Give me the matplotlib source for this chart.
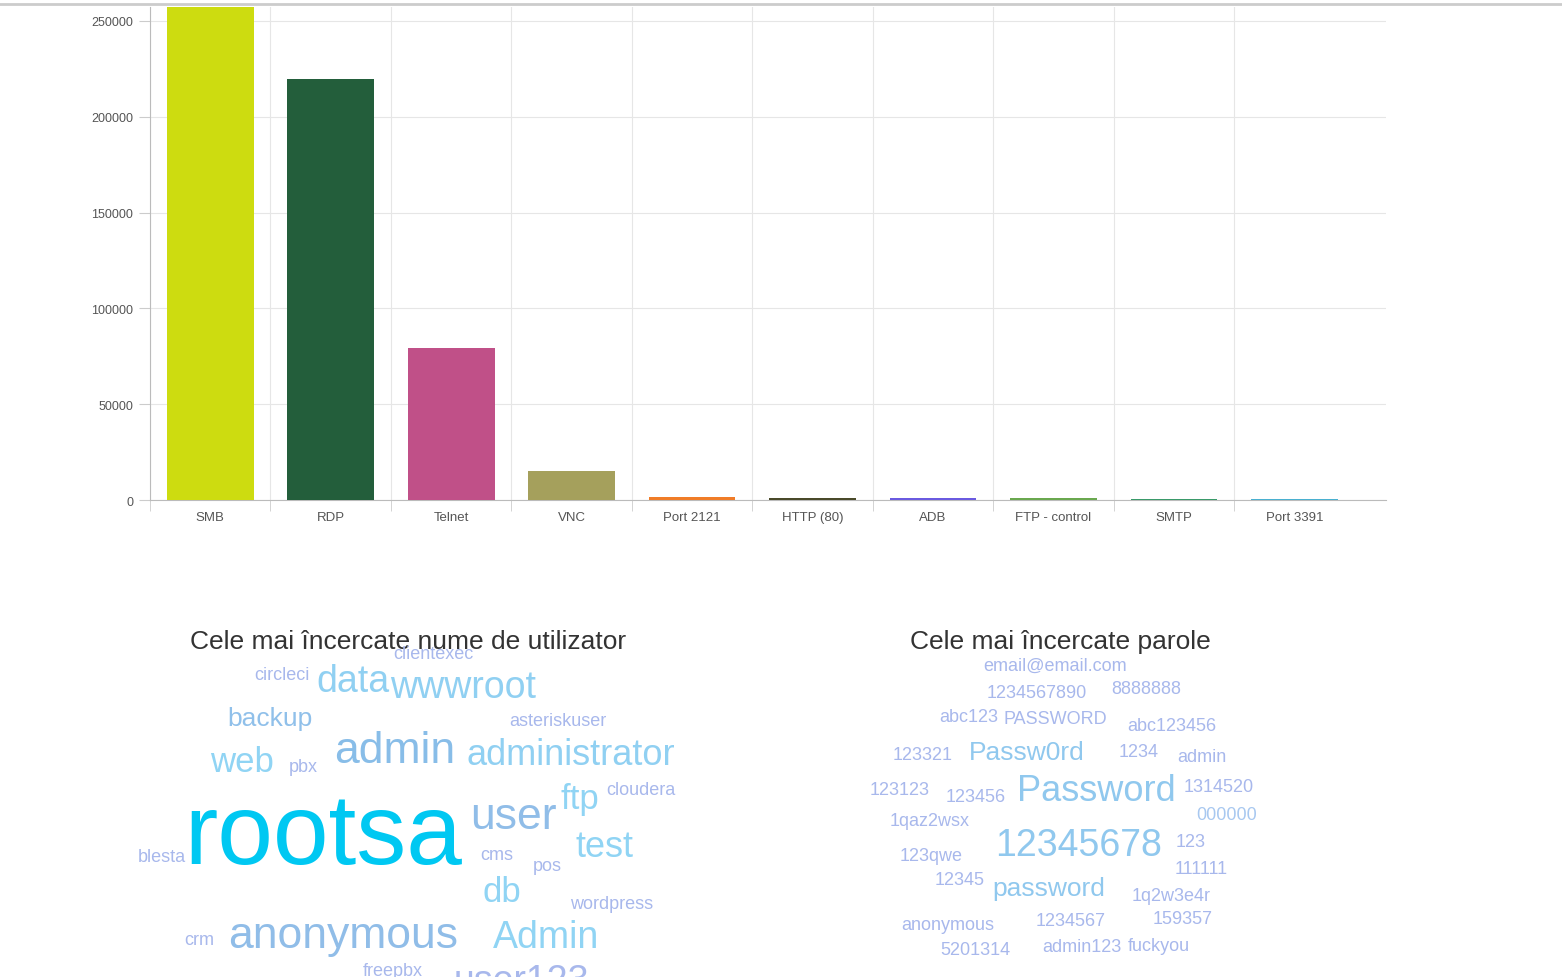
import matplotlib
matplotlib.use("Agg")
import matplotlib.pyplot as plt

categories = ["SMB", "RDP", "Telnet", "VNC", "Port 2121", "HTTP (80)", "ADB", "FTP - control", "SMTP", "Port 3391"]
values = [300000, 219500, 79500, 15200, 1700, 1100, 1000, 900, 600, 500]
colors = ["#cddc10", "#235e3b", "#c05088", "#a5a05c", "#f07c28", "#4a4a2a", "#6a5ae0", "#6aa84f", "#3a9a6a", "#4ab0d0"]
yticks = [0, 50000, 100000, 150000, 200000, 250000]

user_words = ["clientexec", "circleci", "data", "wwwroot", "backup", "asteriskuser", "web", "pbx", "admin",
              "administrator", "cloudera", "ftp", "blesta", "rootsa", "user", "test", "cms", "pos", "db",
              "wordpress", "crm", "anonymous", "Admin", "freepbx", "user123"]
user_sizes = [13, 13, 27, 27, 19, 13, 25, 13, 32, 26, 13, 25, 13, 72, 32, 26, 13, 13, 25, 13, 13, 32, 27, 13, 27]
user_pos = [(433, 655), (282, 676), (353, 682), (463, 688), (270, 719), (558, 721), (242, 763), (303, 768),
            (395, 752), (571, 756), (641, 791), (580, 800), (162, 858), (323, 838), (513, 818), (605, 848),
            (497, 856), (547, 867), (502, 893), (612, 905), (199, 941), (343, 937), (546, 938), (393, 972), (521, 982)]
user_colors = ["#a8b8ec", "#a8b8ec", "#90d0f2", "#90d0f2", "#90c0ea", "#a8b8ec", "#90d4f4", "#a8b8ec", "#88bde8",
               "#90d0f2", "#a8b8ec", "#90d4f4", "#a8b8ec", "#00c8f2", "#90bde8", "#90d4f4", "#a8b8ec", "#a8b8ec",
               "#90d4f4", "#a8b8ec", "#a8b8ec", "#90bde8", "#90d4f4", "#a8b8ec", "#a8b8ec"]

pass_words = ["email@email.com", "1234567890", "8888888", "abc123", "PASSWORD", "abc123456", "123321", "Passw0rd",
              "1234", "admin", "123123", "123456", "Password", "1314520", "1qaz2wsx", "000000", "12345678", "123",
              "123qwe", "111111", "12345", "password", "1q2w3e4r", "159357", "anonymous", "1234567", "5201314",
              "admin123", "fuckyou"]
pass_sizes = [13, 13, 13, 13, 13, 13, 13, 19, 13, 13, 13, 13, 26, 13, 13, 13, 27, 13, 13, 13, 13, 19, 13, 13, 13, 13, 13, 13, 13]
pass_pos = [(1055, 666), (1037, 694), (1146, 689), (969, 718), (1055, 720), (1172, 727), (923, 756), (1027, 753),
            (1139, 753), (1202, 758), (900, 791), (976, 797), (1096, 792), (1219, 788), (930, 822), (1227, 816),
            (1079, 846), (1191, 843), (931, 857), (1201, 870), (960, 881), (1049, 889), (1171, 897), (1183, 919),
            (948, 926), (1071, 922), (975, 951), (1082, 948), (1159, 947)]
pass_colors = ["#a8b8ec", "#a8b8ec", "#a8b8ec", "#a8b8ec", "#a8b8ec", "#a8b8ec", "#a8b8ec", "#90c8ee", "#a8b8ec",
               "#a8b8ec", "#a8b8ec", "#a8b8ec", "#90c8ee", "#a8b8ec", "#a8b8ec", "#a8c8f0", "#90c8ee", "#a8b8ec",
               "#a8b8ec", "#a8b8ec", "#a8b8ec", "#90c8ee", "#a8b8ec", "#a8b8ec", "#a8b8ec", "#a8b8ec", "#a8b8ec",
               "#a8b8ec", "#a8b8ec"]

W, H = 1562, 978
plt.rcParams['font.family'] = ['Liberation Sans', 'DejaVu Sans']
fig = plt.figure(figsize=(W / 100, H / 100), dpi=100)
fig.patch.set_facecolor("white")

ax = fig.add_axes([150 / W, 1 - 501 / H, (1386 - 150) / W, (501 - 8) / H])
x = list(range(len(categories)))
ax.bar(x, values, width=0.72, color=colors, zorder=3)
ax.set_xlim(-0.5, 9.76)
ax.set_ylim(0, 257300)
ax.set_yticks(yticks)
ax.set_yticklabels([str(v) for v in yticks], fontsize=9, color="#555555")
ax.set_xticks(x)
ax.set_xticklabels(categories, fontsize=9.5, color="#555555")
ax.set_xticks([i - 0.5 for i in range(10)], minor=True)
ax.tick_params(axis="x", which="major", length=0, pad=8)
ax.tick_params(axis="x", which="minor", length=8, color="#cccccc")
ax.tick_params(axis="y", length=8, color="#cccccc", pad=4)
ax.grid(True, axis="y", color="#e6e6e6", zorder=0)
ax.grid(True, axis="x", which="minor", color="#e6e6e6", zorder=0)
for s in ["top", "right"]:
    ax.spines[s].set_visible(False)
for s in ["left", "bottom"]:
    ax.spines[s].set_color("#bbbbbb")

fig.add_artist(plt.Line2D([0, 1], [1 - 5 / H, 1 - 5 / H], color="#cccccc", lw=2))

fig.text(408 / W, 1 - 642 / H, "Cele mai încercate nume de utilizator", fontsize=19, color="#333333", ha="center", va="center")
fig.text(1060 / W, 1 - 642 / H, "Cele mai încercate parole", fontsize=19, color="#333333", ha="center", va="center")

for w, s, (px, py), c in zip(user_words, user_sizes, user_pos, user_colors):
    fig.text(px / W, 1 - py / H, w, fontsize=s, color=c, ha="center", va="center")
for w, s, (px, py), c in zip(pass_words, pass_sizes, pass_pos, pass_colors):
    fig.text(px / W, 1 - py / H, w, fontsize=s, color=c, ha="center", va="center")

fig.savefig("out.png", dpi=100)
